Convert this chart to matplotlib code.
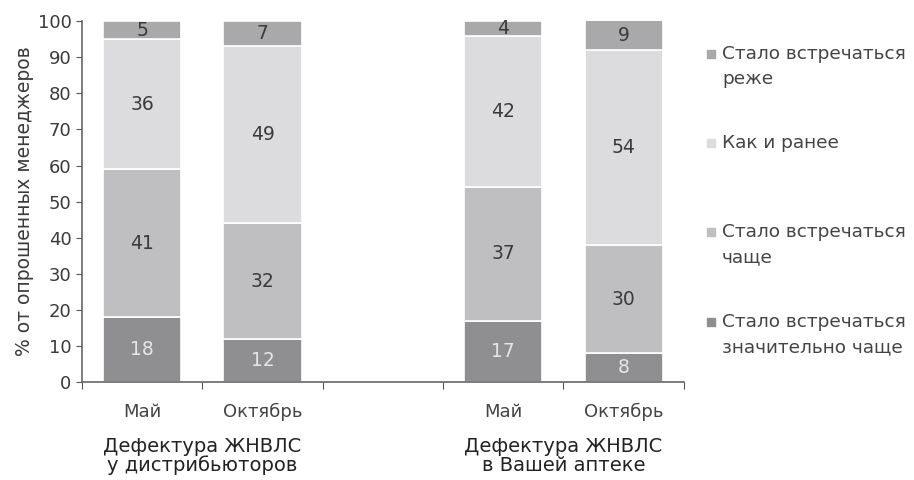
import numpy as np
import matplotlib.pyplot as plt
from matplotlib.patches import Rectangle

# slots: two months per group, an empty slot between the groups
slots = [0, 1, 3, 4]
months = ['Май', 'Октябрь', 'Май', 'Октябрь']
groups = ['Дефектура ЖНВЛС\nу дистрибьюторов', 'Дефектура ЖНВЛС\nв Вашей аптеке']

much_more = [18, 12, 17, 8]
more = [41, 32, 37, 30]
same = [36, 49, 42, 54]
less = [5, 7, 4, 9]

series = [much_more, more, same, less]
names = ['Стало встречаться\nзначительно чаще', 'Стало встречаться\nчаще',
         'Как и ранее', 'Стало встречаться\nреже']
colors = ['#8f8f91', '#bfbfc1', '#dcdcde', '#a9a9ab']
txt_colors = ['#e6e6e6', '#3a3a3a', '#3a3a3a', '#3a3a3a']

plt.rcParams['font.family'] = 'DejaVu Sans'
fig = plt.figure(figsize=(9.14, 4.8), dpi=100)
ax = fig.add_axes([0.0897, 0.204, 0.6585, 0.752])

bottom = np.zeros(len(slots))
for vals, c, tc in zip(series, colors, txt_colors):
    vals = np.array(vals, dtype=float)
    ax.bar(slots, vals, bottom=bottom, width=0.65, color=c,
           edgecolor='white', linewidth=1.2)
    for x, b, v in zip(slots, bottom, vals):
        yc = min(b + v / 2, (b + 100) / 2)
        ax.text(x, yc, f'{v:.0f}', ha='center', va='center',
                fontsize=13.5, color=tc)
    bottom += vals

ax.set_xlim(-0.5, 4.5)
ax.set_ylim(0, 100)
ax.set_yticks(np.arange(0, 101, 10))
ax.tick_params(axis='y', labelsize=13, colors='#555555', length=4,
               labelcolor='#3a3a3a')
ax.set_xticks(np.arange(-0.5, 4.6, 1))
ax.set_xticklabels([])
ax.tick_params(axis='x', length=5, colors='#555555')
for s in ['top', 'right']:
    ax.spines[s].set_visible(False)
for s in ['left', 'bottom']:
    ax.spines[s].set_color('#666666')
    ax.spines[s].set_linewidth(1.2)

ax.set_ylabel('% от опрошенных менеджеров', fontsize=13.5, color='#3a3a3a',
              labelpad=3)

for x, m in zip(slots, months):
    ax.text(x, -8.3, m, ha='center', va='center', fontsize=13,
            color='#444444', clip_on=False)
for x, g in zip([0.5, 3.5], groups):
    ax.text(x, -20.5, g, ha='center', va='center', fontsize=14,
            color='#222222', linespacing=1.0, clip_on=False)

# legend, top entry first
leg_y = [54, 143, 232, 322]
for y, name, c in zip(leg_y, names[::-1], colors[::-1]):
    fig.patches.append(Rectangle((707 / 914, 1 - (y + 4) / 480), 8 / 914, 8 / 480,
                                 transform=fig.transFigure, color=c))
    for i, line in enumerate(name.split('\n')):
        fig.text(722 / 914, 1 - (y + 25 * i) / 480, line, ha='left',
                 va='center', fontsize=13.3, color='#444444')

plt.savefig('out.png', dpi=100)
